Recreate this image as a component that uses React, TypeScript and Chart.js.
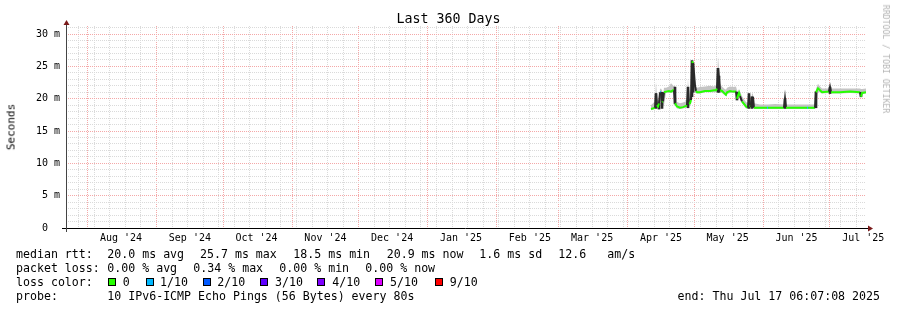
import React, { useEffect, useRef } from 'react';
import { Chart, registerables } from 'chart.js';

Chart.register(...registerables);

// ---------- time frame ----------
const END_UTC = Date.UTC(2025, 6, 17, 6, 7, 8);
const SPAN_DAYS = 360;
const START_UTC = END_UTC - SPAN_DAYS * 86400000;
const dayOf = (y: number, m: number, d: number) => (Date.UTC(y, m, d) - START_UTC) / 86400000;

// ---------- axis labels ----------
const monthLabels = ["Aug '24", "Sep '24", "Oct '24", "Nov '24", "Dec '24", "Jan '25", "Feb '25", "Mar '25", "Apr '25", "May '25", "Jun '25", "Jul '25"];
const monthYear = [2024, 2024, 2024, 2024, 2024, 2025, 2025, 2025, 2025, 2025, 2025, 2025];
const monthIndex = [7, 8, 9, 10, 11, 0, 1, 2, 3, 4, 5, 6];
const yTickValues = Array.from({ length: 32 }, (_, i) => i); // 0..31 ms, every ms a minor line
const yMajorEvery = 5;

// ---------- series (day offset from start of the 360-day window, values in ms) ----------
const dayOffset = [
  263.25, 264.15, 265.05, 265.5, 265.95, 266.4, 266.85, 267.3, 267.75, 268.2, 268.65, 269.1, 270.0, 271.35, 272.25, 273.15, 273.6,
  274.05, 274.95, 276.3, 277.65, 279.0, 279.45, 279.9, 280.35, 280.8, 281.25, 281.7, 282.15, 282.6, 283.05, 283.5, 283.95, 285.3,
  287.55, 289.8, 291.6, 292.5, 292.95, 293.4, 293.85, 294.3, 295.2, 296.1, 297.0, 297.45, 298.8, 300.15, 301.5, 301.95, 302.4,
  302.85, 303.3, 304.2, 305.1, 306.0, 306.9, 307.35, 307.8, 308.25, 308.7, 309.15, 309.6, 312.3, 315.45, 315.9, 319.05, 323.1,
  323.55, 324.0, 328.05, 333.45, 333.9, 337.05, 337.5, 338.4, 339.3, 340.2, 343.35, 343.8, 344.25, 348.3, 352.8, 357.3, 357.75,
  358.2, 360.0,
];
const medianMs = [
  18.4, 18.5, 18.6, 20.8, 19.0, 18.8, 19.3, 21.0, 21.0, 19.5, 19.6, 21.0, 21.1, 21.2, 21.1, 21.3, 21.3,
  19.3, 18.8, 18.6, 18.7, 18.9, 19.0, 21.6, 19.2, 19.3, 19.8, 25.8, 25.5, 24.0, 22.0, 21.2, 21.0, 21.0,
  21.2, 21.2, 21.3, 21.3, 21.6, 24.7, 23.0, 21.3, 21.2, 20.9, 20.6, 21.0, 21.2, 21.1, 21.1, 20.0, 20.5,
  20.9, 20.4, 19.6, 19.2, 18.8, 18.6, 20.6, 19.0, 18.7, 20.3, 20.3, 18.6, 18.6, 18.6, 18.6, 18.6, 18.6,
  20.0, 18.6, 18.6, 18.6, 18.6, 18.6, 21.0, 21.6, 21.3, 21.0, 21.1, 21.8, 21.0, 21.0, 21.1, 21.0, 20.3,
  20.9, 21.0,
];
const smokeMaxMs = [
  19.0, 19.3, 19.6, 22.6, 20.1, 19.7, 19.9, 21.5, 21.6, 21.3, 20.3, 21.7, 21.7, 21.9, 22.4, 22.1, 21.9,
  22.0, 19.5, 19.3, 19.4, 19.6, 19.9, 23.1, 20.1, 19.9, 20.5, 26.0, 25.8, 24.7, 22.9, 21.9, 21.7, 21.8,
  21.9, 22.0, 21.9, 22.1, 22.5, 26.5, 24.6, 22.3, 21.9, 21.6, 21.4, 21.7, 21.9, 21.8, 21.9, 21.3, 21.1,
  21.5, 21.1, 20.4, 19.9, 19.5, 19.3, 21.1, 19.7, 19.3, 20.9, 20.7, 19.3, 19.1, 19.1, 19.1, 19.2, 19.1,
  20.5, 19.1, 19.1, 19.1, 19.1, 19.1, 21.5, 22.3, 21.9, 21.6, 21.6, 22.1, 21.6, 21.6, 21.6, 21.6, 21.5,
  21.5, 21.6,
];
const smokeMinMs = [
  18.2, 18.3, 18.4, 18.5, 18.6, 18.5, 18.5, 19.0, 19.5, 18.6, 18.8, 19.0, 20.9, 21.0, 20.9, 21.0, 21.0,
  19.0, 18.5, 18.4, 18.5, 18.6, 18.7, 18.6, 18.8, 19.0, 19.2, 20.3, 21.0, 21.0, 20.9, 20.9, 20.8, 20.8,
  21.0, 21.0, 21.0, 21.0, 21.0, 21.0, 21.0, 21.0, 20.9, 20.6, 20.4, 20.7, 20.9, 20.9, 20.9, 19.8, 20.2,
  20.5, 20.0, 19.3, 18.9, 18.5, 18.4, 18.5, 18.6, 18.5, 18.6, 18.6, 18.4, 18.4, 18.4, 18.4, 18.4, 18.4,
  18.5, 18.4, 18.4, 18.4, 18.4, 18.4, 18.6, 21.0, 21.0, 20.8, 20.9, 21.0, 20.8, 20.8, 20.9, 20.8, 20.1,
  20.7, 20.8,
];
const lossTenths = [
  0, 0, 0, 0, 0, 0, 0, 1, 0, 0, 0, 0, 0, 0, 0, 0, 0,
  0, 0, 0, 0, 0, 0, 0, 0, 0, 0, 0, 0, 0, 0, 0, 0, 0,
  0, 0, 0, 0, 0, 0, 0, 0, 0, 0, 0, 0, 0, 0, 0, 0, 0,
  0, 0, 0, 0, 0, 0, 0, 0, 0, 1, 0, 0, 0, 1, 0, 0, 0,
  0, 0, 0, 1, 0, 0, 0, 0, 0, 0, 0, 0, 0, 0, 0, 0, 0,
  0, 0,
];
// dense inner smoke at the spikes
const spikeDay = [265.5, 266.85, 268.2, 274.05, 279.9, 281.7, 282.15, 293.4, 293.85, 301.95, 307.35, 308.7, 323.55, 337.5, 343.8, 357.75];
const spikeLowMs = [18.5, 18.4, 18.5, 19.2, 18.6, 20.3, 21.0, 21.0, 21.0, 19.8, 18.5, 18.5, 18.5, 18.6, 20.8, 20.3];
const spikeHighMs = [20.8, 19.3, 21.0, 21.8, 21.8, 25.9, 25.5, 24.7, 23.5, 21.0, 20.8, 20.3, 20.0, 21.1, 21.8, 21.0];

// ---------- legend texts ----------
const rttLegend = ['median rtt:', '20.0 ms avg', '25.7 ms max', '18.5 ms min', '20.9 ms now', '1.6 ms sd', '12.6', 'am/s'];
const lossLegend = ['packet loss:', '0.00 % avg', '0.34 % max', '0.00 % min', '0.00 % now'];
const lossClassLabels = ['0', '1/10', '2/10', '3/10', '4/10', '5/10', '9/10'];
const lossClassColors = ['#26ff00', '#00b8ff', '#0059ff', '#5e00ff', '#7e00ff', '#dd00ff', '#ff0000'];
const lossClassTenths = [0, 1, 2, 3, 4, 5, 9];
const probeText = '10 IPv6-ICMP Echo Pings (56 Bytes) every 80s';
const endText = 'end: Thu Jul 17 06:07:08 2025';

// ---------- styles ----------
const MONO = "'DejaVu Sans Mono', monospace";
const GRID_MINOR = '#dadada';
const GRID_MAJOR = '#f4a8a8';
const SMOKE = '#c4c4c4';
const SMOKE_CORE = '#2a2a2a';
const ARROW = '#7a1a1a';

type XT = { value: number; kind: 'week' | 'month' | 'label'; text?: string };

function buildXTicks(): XT[] {
  const out: XT[] = [];
  const monthVals: number[] = [];
  for (let i = 0; i < monthLabels.length; i++) {
    const v = dayOf(monthYear[i], monthIndex[i], 1);
    monthVals.push(v);
    out.push({ value: v, kind: 'month' });
    out.push({ value: dayOf(monthYear[i], monthIndex[i], 16), kind: 'label', text: monthLabels[i] });
  }
  // weekly lines on Sundays
  for (let v = dayOf(2024, 6, 28); v < SPAN_DAYS; v += 7) {
    if (!monthVals.some((m) => Math.abs(m - v) < 1e-6)) out.push({ value: v, kind: 'week' });
  }
  return out.filter((t) => t.value >= 0 && t.value <= SPAN_DAYS).sort((a, b) => a.value - b.value);
}

const axesPlugin = {
  id: 'rrdAxes',
  afterDatasetsDraw(chart: any) {
    const { ctx, chartArea } = chart;
    const { left, right, top, bottom } = chartArea;
    ctx.save();
    ctx.lineWidth = 1;
    ctx.strokeStyle = '#000';
    ctx.beginPath();
    ctx.moveTo(left - 4, Math.round(bottom) + 0.5);
    ctx.lineTo(right + 3, Math.round(bottom) + 0.5);
    ctx.stroke();
    ctx.strokeStyle = '#444';
    ctx.beginPath();
    ctx.moveTo(Math.round(left) + 0.5, bottom + 4);
    ctx.lineTo(Math.round(left) + 0.5, top - 2);
    ctx.stroke();
    ctx.fillStyle = ARROW;
    const by = Math.round(bottom) + 0.5;
    ctx.beginPath();
    ctx.moveTo(right + 2, by - 3);
    ctx.lineTo(right + 7, by);
    ctx.lineTo(right + 2, by + 3);
    ctx.closePath();
    ctx.fill();
    const lx = Math.round(left) + 0.5;
    ctx.beginPath();
    ctx.moveTo(lx - 3, top - 1);
    ctx.lineTo(lx, top - 6);
    ctx.lineTo(lx + 3, top - 1);
    ctx.closePath();
    ctx.fill();
    ctx.restore();
  },
};

function Txt({ x, cy, children, right }: { x?: number; cy: number; children: any; right?: number }) {
  const style: any = {
    position: 'absolute',
    top: cy - 7,
    lineHeight: '14px',
    fontSize: '11.6px',
    fontFamily: MONO,
    whiteSpace: 'pre',
    color: '#000',
  };
  if (right !== undefined) style.right = right;
  else style.left = x;
  return <div style={style}>{children}</div>;
}

export default function App() {
  const ref = useRef<HTMLCanvasElement | null>(null);

  useEffect(() => {
    if (!ref.current) return;
    const xTicks = buildXTicks();
    const lossColor = (t: number) => lossClassColors[Math.max(0, lossClassTenths.indexOf(t))];
    const tickFont = { family: MONO, size: 10 };

    const chart = new Chart(ref.current, {
      type: 'line',
      data: {
        datasets: [
          {
            type: 'line',
            label: 'median rtt',
            data: dayOffset.map((d, i) => ({ x: d, y: medianMs[i] })),
            borderColor: lossClassColors[0],
            borderWidth: 2,
            pointRadius: 0,
            tension: 0,
            fill: false,
            order: 0,
            segment: {
              borderColor: (c: any) => {
                const dy = Math.abs(c.p1.parsed.y - c.p0.parsed.y);
                if (dy > 0.65) return SMOKE_CORE;
                return lossColor(lossTenths[c.p0DataIndex]);
              },
            },
          } as any,
          {
            type: 'bar',
            label: 'smoke core',
            data: spikeDay.map((d, i) => ({ x: d, y: [spikeLowMs[i], spikeHighMs[i]] })),
            backgroundColor: SMOKE_CORE,
            barThickness: 2,
            grouped: false,
            order: 1,
          } as any,
          {
            type: 'line',
            label: 'smoke max',
            data: dayOffset.map((d, i) => ({ x: d, y: smokeMaxMs[i] })),
            borderColor: 'rgba(0,0,0,0)',
            borderWidth: 0,
            backgroundColor: SMOKE,
            pointRadius: 0,
            tension: 0,
            fill: '+1',
            order: 2,
          } as any,
          {
            type: 'line',
            label: 'smoke min',
            data: dayOffset.map((d, i) => ({ x: d, y: smokeMinMs[i] })),
            borderColor: 'rgba(0,0,0,0)',
            borderWidth: 0,
            pointRadius: 0,
            tension: 0,
            fill: false,
            order: 3,
          } as any,
        ],
      },
      options: {
        animation: false,
        responsive: false,
        devicePixelRatio: 1,
        layout: { padding: { left: 0, top: 26, right: 31, bottom: 62 } },
        plugins: { legend: { display: false }, title: { display: false }, tooltip: { enabled: false } },
        events: [],
        scales: {
          x: {
            type: 'linear',
            min: 0,
            max: SPAN_DAYS,
            offset: false,
            grid: {
              offset: false,
              drawTicks: false,
              lineWidth: 1,
              color: (c: any) => {
                const t = xTicks[c.index];
                if (!t) return 'rgba(0,0,0,0)';
                if (t.kind === 'month') return GRID_MAJOR;
                if (t.kind === 'week') return GRID_MINOR;
                return 'rgba(0,0,0,0)';
              },
            },
            border: { display: false, dash: [1, 1] },
            ticks: {
              autoSkip: false,
              maxRotation: 0,
              minRotation: 0,
              padding: 4,
              font: tickFont,
              color: '#000',
              callback: (_v: any, i: number) => (xTicks[i] && xTicks[i].kind === 'label' ? xTicks[i].text : ''),
            },
            afterBuildTicks: (s: any) => {
              s.ticks = xTicks.map((t) => ({ value: t.value }));
            },
            afterFit: (s: any) => {
              s.height = 20;
            },
          },
          y: {
            type: 'linear',
            min: 0,
            max: 31.25,
            grid: {
              drawTicks: false,
              lineWidth: 1,
              color: (c: any) => (c.tick && c.tick.value % yMajorEvery === 0 ? GRID_MAJOR : GRID_MINOR),
            },
            border: { display: false, dash: [1, 1] },
            ticks: {
              autoSkip: false,
              padding: 6,
              font: tickFont,
              color: '#000',
              callback: (v: any) => (v === 0 ? '0  ' : v % yMajorEvery === 0 ? `${v} m` : ''),
            },
            afterBuildTicks: (s: any) => {
              s.ticks = yTickValues.map((v) => ({ value: v }));
            },
            afterFit: (s: any) => {
              s.width = 66;
            },
          },
        },
      } as any,
      plugins: [axesPlugin],
    });
    return () => chart.destroy();
  }, []);

  const sqX = [108.3, 145.7, 202.7, 260, 317.3, 375, 435];
  const sqLabelX = [122.7, 160, 217.3, 275, 332.3, 390, 449.7];
  const rttX = [16, 107.3, 200, 293.3, 386.7, 479.3, 558.3, 607.3];
  const lossX = [16, 107.3, 193.3, 279.3, 365.3];

  return (
    <div style={{ position: 'absolute', left: 0, top: 0, width: 897, height: 310, background: '#fff', overflow: 'hidden' }}>
      <canvas ref={ref} width={897} height={310} style={{ position: 'absolute', left: 0, top: 0, width: 897, height: 310 }} />
      <div
        style={{
          position: 'absolute', left: 0, width: 897, top: 11, lineHeight: '16px', textAlign: 'center',
          fontFamily: MONO, fontSize: '13.3px', color: '#000',
        }}
      >
        Last 360 Days
      </div>
      <div
        style={{
          position: 'absolute', left: 11, top: 127, transform: 'translate(-50%, -50%) rotate(-90deg)',
          fontFamily: MONO, fontSize: '11px', whiteSpace: 'nowrap', color: '#000',
        }}
      >
        Seconds
      </div>
      <div
        style={{
          position: 'absolute', left: 886, top: 59, transform: 'translate(-50%, -50%) rotate(90deg)',
          fontFamily: MONO, fontSize: '8.2px', whiteSpace: 'nowrap', color: '#b4b4b4',
        }}
      >
        RRDTOOL / TOBI OETIKER
      </div>
      {rttLegend.map((t, i) => (
        <Txt key={'r' + i} x={rttX[i]} cy={254.3}>{t}</Txt>
      ))}
      {lossLegend.map((t, i) => (
        <Txt key={'l' + i} x={lossX[i]} cy={268.3}>{t}</Txt>
      ))}
      <Txt x={16} cy={282.3}>loss color:</Txt>
      {lossClassLabels.map((t, i) => (
        <React.Fragment key={'c' + i}>
          <div
            style={{
              position: 'absolute', left: sqX[i], top: 277.5, width: 8, height: 8, boxSizing: 'border-box',
              border: '1px solid #000', background: lossClassColors[i],
            }}
          />
          <Txt x={sqLabelX[i]} cy={282.3}>{t}</Txt>
        </React.Fragment>
      ))}
      <Txt x={16} cy={296.3}>probe:</Txt>
      <Txt x={107.3} cy={296.3}>{probeText}</Txt>
      <Txt right={17} cy={296.3}>{endText}</Txt>
    </div>
  );
}
